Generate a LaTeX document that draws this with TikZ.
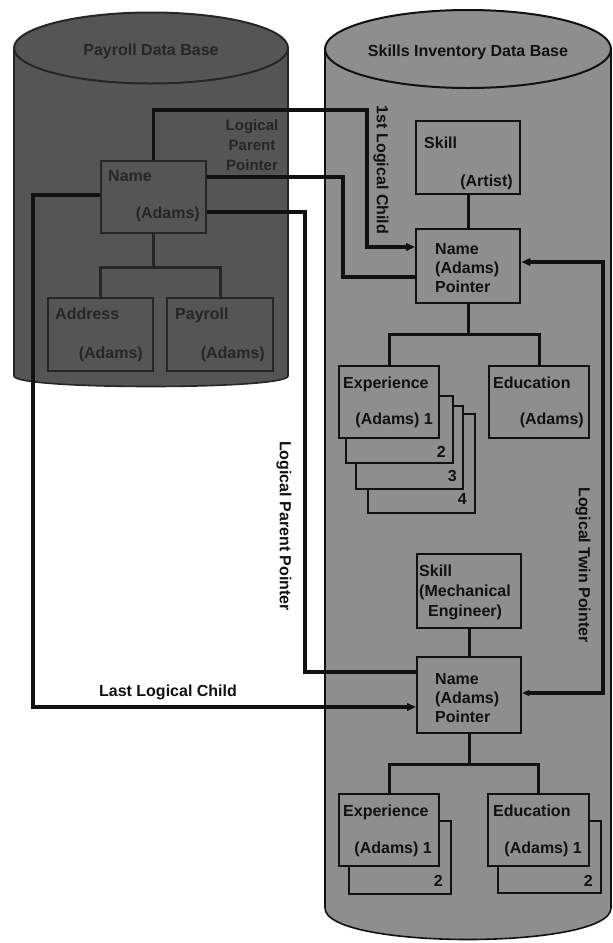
\documentclass[tikz,border=0pt]{standalone}
\usepackage{fontspec}
\setmainfont{Liberation Sans}
\usetikzlibrary{arrows.meta,calc}
\definecolor{darkdb}{HTML}{555555}
\definecolor{lightdb}{HTML}{8E8E8E}
\definecolor{darkink}{HTML}{262626}
\definecolor{ink}{HTML}{111111}
\begin{document}
\begin{tikzpicture}[x=1pt,y=-1pt,
  seg/.style={draw=ink, line width=2.4pt, inner sep=0pt, anchor=north west},
  lseg/.style={seg, draw=darkink, fill=darkdb},
  rseg/.style={seg, fill=lightdb},
  conn/.style={draw=ink, line width=3.2pt, line join=miter},
  tip/.style={-{Triangle[length=9pt,width=7.5pt]}},
  tips/.style={{Triangle[length=7pt,width=6pt]}-{Triangle[length=9pt,width=7.5pt]}},
  txt/.style={font=\bfseries\fontsize{16}{19}\selectfont, inner sep=0pt, text=ink},
  ltxt/.style={txt, text=darkink},
  vlabel/.style={txt, rotate=-90, anchor=center}
]
\useasboundingbox (0,0) rectangle (613,943);
% ---------- cylinders ----------
\path[draw=darkink, line width=1.6pt, fill=darkdb]
  (14,48) -- (14,376) .. controls (14,390) and (288,390) .. (288,376) -- (288,48) -- cycle;
\path[draw=darkink, line width=2pt, fill=darkdb] (151,48) ellipse [x radius=137pt, y radius=35.5pt];
\node[ltxt] (ltitle) at (151,51) {Payroll Data Base};

\path[draw=ink, line width=1.6pt, fill=lightdb]
  (325,49) -- (325,908) .. controls (325,950) and (611,950) .. (611,908) -- (611,49) -- cycle;
\path[draw=ink, line width=2pt, fill=lightdb] (468,49) ellipse [x radius=143pt, y radius=39pt];
\node[txt] (rtitle) at (468,52) {Skills Inventory Data Base};

% ---------- left data base segments ----------
\node[lseg, minimum width=105pt, minimum height=72pt] (lname) at (100,160) {};
\node[lseg, minimum width=105pt, minimum height=73pt] (laddr) at (47,297) {};
\node[lseg, minimum width=106pt, minimum height=73pt] (lpay)  at (166,297) {};
\node[ltxt, anchor=base west] (lnamea) at (108,181) {Name};
\node[ltxt, anchor=base east] (lnameb) at (200,218) {(Adams)};
\node[ltxt, anchor=base west] (laddra) at (55,319) {Address};
\node[ltxt, anchor=base east] (laddrb) at (143,358) {(Adams)};
\node[ltxt, anchor=base west] (lpaya) at (175,319) {Payroll};
\node[ltxt, anchor=base east] (lpayb) at (265,358) {(Adams)};
\node[ltxt, align=center, font=\bfseries\fontsize{15}{20}\selectfont] (lpp) at (252,145) {Logical\\Parent\\Pointer};

% ---------- right data base segments ----------
\node[rseg, minimum width=104pt, minimum height=73pt] (rskill1) at (415,120) {};
\node[txt, anchor=base west] (rskill1a) at (424,148) {Skill};
\node[txt, anchor=base east] (rskill1b) at (513,186) {(Artist)};

\node[rseg, minimum width=104pt, minimum height=74pt] (rname1) at (415,228) {};
\node[txt, anchor=base west, align=left] (rname1t) at (435,292) {Name\\(Adams)\\Pointer};

\node[rseg, minimum width=107pt, minimum height=99pt] (rexp1d) at (367,413) {};
\node[rseg, minimum width=107pt, minimum height=83pt] (rexp1c) at (355,405) {};
\node[rseg, minimum width=107pt, minimum height=67pt] (rexp1b) at (345,395) {};
\node[rseg, minimum width=100pt, minimum height=72pt] (rexp1) at (338,365) {};
\node[txt, anchor=base east] (n2) at (446,457) {2};
\node[txt, anchor=base east] (n3) at (457,481) {3};
\node[txt, anchor=base east] (n4) at (467,504) {4};
\node[txt, anchor=base west] (rexp1a) at (343,388) {Experience};
\node[txt, anchor=base east] (rexp1n) at (433,424) {(Adams) 1};

\node[rseg, minimum width=100pt, minimum height=72pt] (redu1) at (488,365) {};
\node[txt, anchor=base west] (redu1a) at (493,388) {Education};
\node[txt, anchor=base east] (redu1n) at (584,424) {(Adams)};

\node[rseg, minimum width=104pt, minimum height=74pt] (rskill2) at (416,553) {};
\node[txt, anchor=base west, align=left, font=\bfseries\fontsize{16}{20}\selectfont] (rskill2t) at (419,616) {Skill\\(Mechanical\\\hspace*{9pt}Engineer)};

\node[rseg, minimum width=104pt, minimum height=76pt] (rname2) at (416,656) {};
\node[txt, anchor=base west, align=left] (rname2t) at (435,722) {Name\\(Adams)\\Pointer};

\node[rseg, minimum width=102pt, minimum height=73pt] (rexp2b) at (348,820) {};
\node[rseg, minimum width=100pt, minimum height=72pt] (rexp2) at (338,793) {};
\node[txt, anchor=base east] (m2a) at (443,886) {2};
\node[txt, anchor=base west] (rexp2a) at (343,816) {Experience};
\node[txt, anchor=base east] (rexp2n) at (432,853) {(Adams) 1};

\node[rseg, minimum width=103pt, minimum height=72pt] (redu2b) at (497,820) {};
\node[rseg, minimum width=101pt, minimum height=72pt] (redu2) at (487,793) {};
\node[txt, anchor=base east] (m2b) at (593,886) {2};
\node[txt, anchor=base west] (redu2a) at (493,816) {Education};
\node[txt, anchor=base east] (redu2n) at (582,853) {(Adams) 1};

% ---------- hierarchy connectors ----------
\draw[conn, draw=darkink] (lname.south) -- ++(0,33) coordinate (lb);
\draw[conn, draw=darkink] (laddr.north) |- (lb) -| (lpay.north);
\draw[conn] (rskill1.south) -- (rname1.north);
\draw[conn] (rname1.south) -- ++(0,30) coordinate (rb1);
\draw[conn] (rexp1.north) |- (rb1) -| (redu1.north);
\draw[conn] (rskill2.south) -- (rname2.north);
\draw[conn] (rname2.south) -- ++(0,30) coordinate (rb2);
\draw[conn] (rexp2.north) |- (rb2) -| (redu2.north);

% ---------- logical pointers ----------
\coordinate (a1) at (367,110);
\coordinate (a2) at (367,247);
\draw[conn, tip] (lname.north) |- (a1) -- (a2) -- (a2 -| rname1.west);

\coordinate (b1) at (343,177);
\coordinate (b2) at (343,277);
\draw[conn] (b1 -| lname.east) -- (b1) -- (b2) -- (b2 -| rname1.west);

\coordinate (c1) at (305,212);
\coordinate (c2) at (305,672);
\draw[conn] (c1 -| lname.east) -- (c1) -- (c2) -- (c2 -| rname2.west);

\coordinate (d1) at (33,195);
\coordinate (d2) at (33,707);
\draw[conn, tip] (d1 -| lname.west) -- (d1) -- (d2) -- (d2 -| rname2.west);

\coordinate (e1) at (603,693);
\coordinate (e2) at (603,262);
\draw[conn, tips] (e1 -| rname2.east) -- (e1) -- (e2) -- (e2 -| rname1.east);

% ---------- pointer labels ----------
\node[vlabel] (l1st) at (381,170) {1st Logical Child};
\node[vlabel] (llpp) at (284,526) {Logical Parent Pointer};
\node[vlabel] (lltp) at (583,565) {Logical Twin Pointer};
\node[txt, anchor=base] (llast) at (168,696) {Last Logical Child};
\end{tikzpicture}
\end{document}
